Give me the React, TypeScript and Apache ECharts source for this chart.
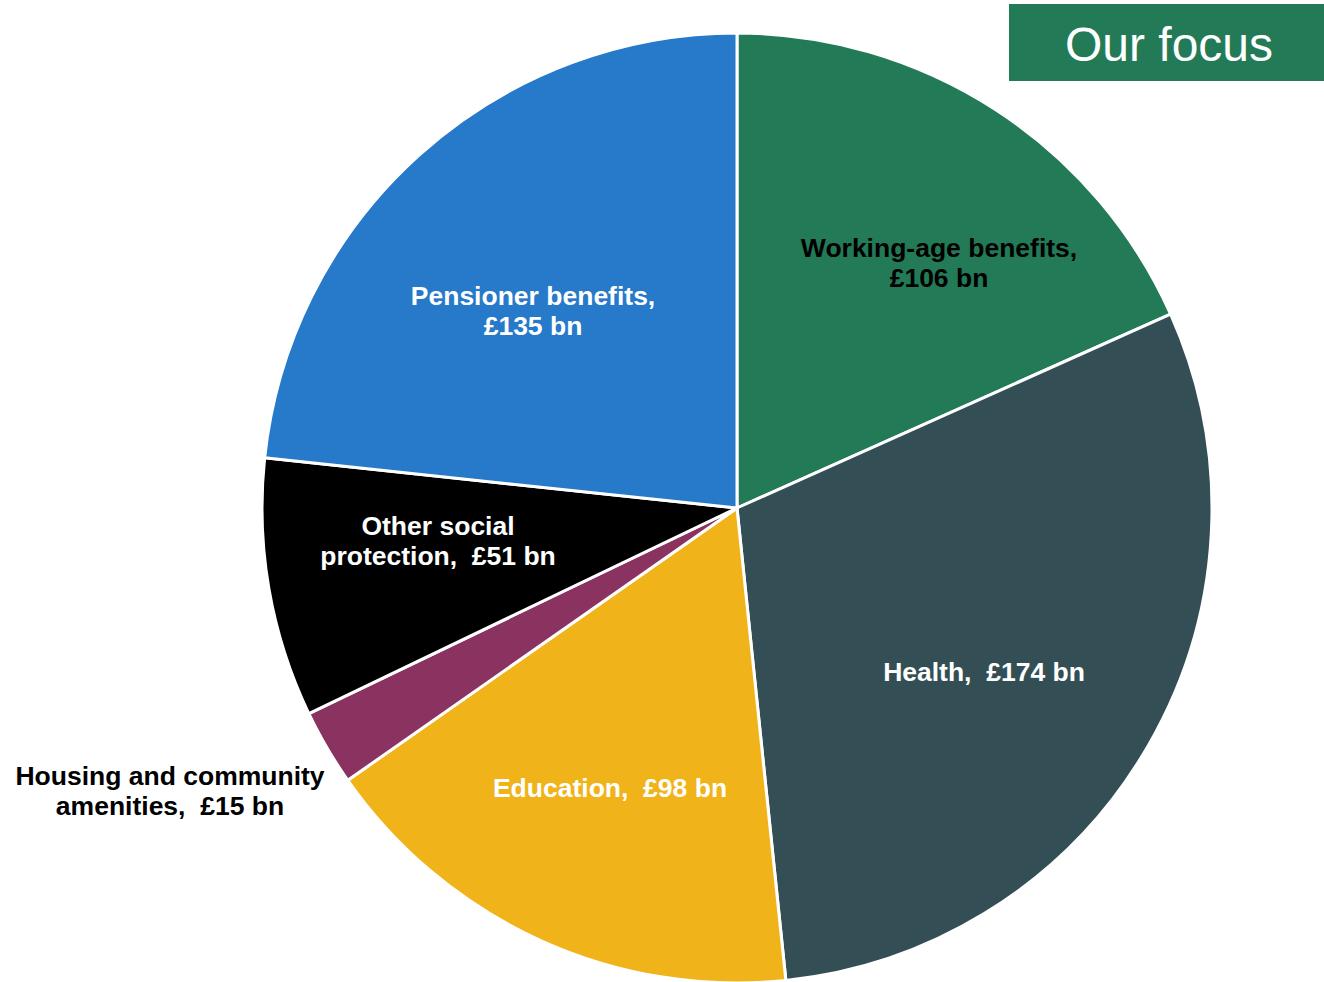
import React, { useEffect, useRef } from "react";
import * as echarts from "echarts";

const categories = [
  "Working-age benefits,\n£106 bn",
  "Health,  £174 bn",
  "Education,  £98 bn",
  "Housing and community\namenities,  £15 bn",
  "Other social\nprotection,  £51 bn",
  "Pensioner benefits,\n£135 bn",
];
const values = [106, 174, 98, 15, 51, 135];
const colors = ["#237A57", "#334F55", "#F0B31A", "#8B3360", "#000000", "#2779C9"];
const labelColors = ["#000000", "#ffffff", "#ffffff", "#000000", "#ffffff", "#ffffff"];
// label anchor positions
const labelPos = [
  [939, 263],
  [984, 672],
  [610, 788],
  [170, 791],
  [438, 541],
  [533, 311],
];

export default function App() {
  const ref = useRef<HTMLDivElement>(null);
  useEffect(() => {
    document.body.style.margin = "0";
    const chart = echarts.init(ref.current!, null, { renderer: "svg" });
    chart.setOption({
      animation: false,
      backgroundColor: "#ffffff",
      graphic: [
        {
          type: "rect",
          shape: { x: 1009, y: 4, width: 315, height: 77 },
          style: { fill: "#237A57" },
        },
        {
          type: "text",
          x: 1169,
          y: 44,
          style: {
            text: "Our focus",
            fill: "#ffffff",
            fontFamily: "Liberation Sans",
            fontSize: 48,
            align: "center",
            verticalAlign: "middle",
          },
        },
      ],
      series: [
        {
          type: "pie",
          center: [737, 508],
          radius: [0, 475],
          startAngle: 90,
          clockwise: true,
          silent: true,
          itemStyle: { borderColor: "#ffffff", borderWidth: 3 },
          label: {
            show: true,
            position: "inside",
            formatter: "{b}",
            fontFamily: "Liberation Sans",
            fontWeight: "bold",
            fontSize: 26.5,
            lineHeight: 30,
            align: "center",
          },
          labelLine: { show: false },
          labelLayout: (params: any) => {
            const p = labelPos[params.dataIndex];
            return { x: p[0], y: p[1], align: "center", verticalAlign: "middle" };
          },
          data: categories.map((name, i) => ({
            name,
            value: values[i],
            itemStyle: { color: colors[i] },
            label: { color: labelColors[i] },
          })),
        },
      ],
    });
    return () => chart.dispose();
  }, []);
  return <div ref={ref} style={{ width: 1324, height: 982 }} />;
}
